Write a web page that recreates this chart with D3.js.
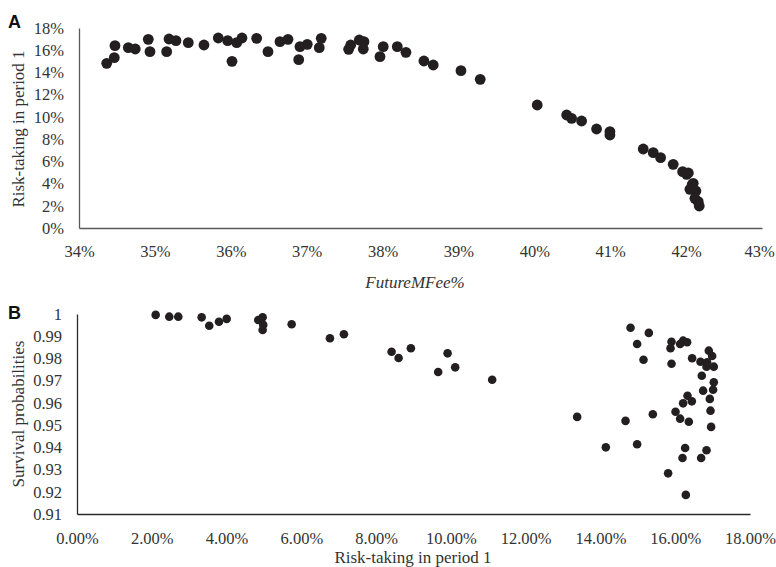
<!DOCTYPE html>
<html>
<head>
<meta charset="utf-8">
<script src="https://cdn.jsdelivr.net/npm/d3@7"></script>
<style>
  body { margin: 0; background: #fff; }
</style>
</head>
<body>
<div id="chart"></div>
<script>
// panel A: future management fee (%) vs risk-taking in period 1 (%)
var futureFee = [34.365, 34.465, 34.474, 34.65, 34.742, 34.913, 34.935, 35.155, 35.186, 35.278,
  35.44, 35.647, 35.835, 35.959, 36.016, 36.078, 36.148, 36.341, 36.49, 36.648,
  36.754, 36.895, 36.912, 37.008, 37.166, 37.192, 37.553, 37.58, 37.693, 37.755,
  37.746, 38.009, 37.966, 38.194, 38.308, 38.545, 38.668, 39.033, 39.287, 40.038,
  40.426, 40.491, 40.623, 40.82, 40.996, 40.996, 41.435, 41.567, 41.664, 41.83,
  41.954, 42.007, 42.094, 42.05, 42.129, 42.116, 42.16, 42.173, 42.08, 42.03];
var riskA = [14.82, 15.33, 16.41, 16.23, 16.11, 16.98, 15.87, 15.87, 17.01, 16.86,
  16.68, 16.47, 17.10, 16.86, 15.00, 16.68, 17.10, 17.07, 15.87, 16.77,
  16.98, 15.15, 16.32, 16.53, 16.23, 17.07, 16.08, 16.47, 16.92, 16.77,
  16.11, 16.32, 15.42, 16.32, 15.81, 15.03, 14.67, 14.16, 13.38, 11.07,
  10.17, 9.87, 9.63, 8.91, 8.67, 8.37, 7.11, 6.78, 6.33, 5.73,
  5.07, 4.83, 4.02, 3.48, 3.33, 2.67, 2.37, 1.98, 3.9, 4.95];

// panel B: risk-taking in period 1 (%) vs survival probability
var riskB = [2.104, 2.468, 2.709, 3.334, 3.537, 3.797, 4.003, 4.848, 4.965, 4.981,
  4.965, 5.741, 6.765, 7.139, 8.414, 8.602, 8.93, 9.912, 9.66, 10.115,
  11.104, 14.805, 15.294, 14.981, 15.152, 15.901, 15.874, 16.131, 16.211, 16.318,
  15.901, 16.452, 16.898, 16.987, 16.676, 16.853, 16.837, 17.032, 16.711, 17.032,
  17.013, 16.746, 16.925, 16.329, 16.211, 16.444, 13.377, 14.671, 15.401, 16.008,
  16.131, 16.364, 16.944, 16.96, 14.144, 14.981, 16.265, 16.837, 16.195, 16.693,
  15.81, 16.283];
var survival = [0.9996, 0.9988, 0.9988, 0.9985, 0.9947, 0.9965, 0.9978, 0.9973, 0.9985, 0.9951,
  0.9928, 0.9954, 0.9891, 0.9909, 0.9830, 0.9802, 0.9846, 0.9823, 0.9739, 0.9760,
  0.9704, 0.9938, 0.9915, 0.9865, 0.9794, 0.9875, 0.9846, 0.9865, 0.9880, 0.9873,
  0.9776, 0.9801, 0.9835, 0.9811, 0.9785, 0.9783, 0.9763, 0.9763, 0.9722, 0.9693,
  0.9659, 0.9655, 0.9618, 0.9632, 0.9598, 0.9607, 0.9537, 0.9519, 0.9549, 0.9560,
  0.9529, 0.9515, 0.9565, 0.9492, 0.9400, 0.9414, 0.9397, 0.9387, 0.9352, 0.9352,
  0.9283, 0.9186];

var feeTicks = [34, 35, 36, 37, 38, 39, 40, 41, 42, 43];
var riskATicks = [0, 2, 4, 6, 8, 10, 12, 14, 16, 18];
var riskBTicks = [0, 2, 4, 6, 8, 10, 12, 14, 16, 18];
var survTicks = [0.91, 0.92, 0.93, 0.94, 0.95, 0.96, 0.97, 0.98, 0.99, 1];

var W = 776, H = 567;
var dotColor = "#231f20";
var serif = "'Liberation Serif', 'Times New Roman', 'DejaVu Serif', serif";
var sans = "'Liberation Sans', Arial, sans-serif";

var svg = d3.select("#chart").append("svg")
  .attr("width", W).attr("height", H);

function styleAxis(g, stroke) {
  g.attr("font-family", serif).attr("font-size", 16.5);
  g.select(".domain").attr("stroke", stroke).attr("stroke-width", 1.3);
  g.selectAll("text").attr("fill", "#333");
}

// ---- panel A
var xA = d3.scaleLinear().domain([34, 43]).range([79, 762]);
var yA = d3.scaleLinear().domain([0, 18]).range([228, 28]);

svg.append("g").attr("transform", "translate(0,228)")
  .call(d3.axisBottom(xA).tickValues(feeTicks).tickSize(0).tickPadding(17)
    .tickFormat(d => d + "%"))
  .call(styleAxis, "#5a5a5a")
  .selectAll(".tick text").filter(d => d === 43).attr("dx", -3); // keep inside the frame
svg.append("g").attr("transform", "translate(79,0)")
  .call(d3.axisLeft(yA).tickValues(riskATicks).tickSize(0).tickPadding(15)
    .tickFormat(d => d + "%"))
  .call(styleAxis, "#5a5a5a");

svg.append("g").selectAll("circle")
  .data(futureFee.map((f, i) => [f, riskA[i]]))
  .join("circle")
  .attr("cx", d => xA(d[0]))
  .attr("cy", d => yA(d[1]))
  .attr("r", 5.4)
  .attr("fill", dotColor);

svg.append("text")
  .attr("x", 415).attr("y", 288)
  .attr("text-anchor", "middle")
  .attr("font-family", serif).attr("font-size", 17).attr("font-style", "italic")
  .attr("fill", "#333")
  .text("FutureMFee%");

svg.append("text")
  .attr("transform", "translate(24,129) rotate(-90)")
  .attr("text-anchor", "middle")
  .attr("font-family", serif).attr("font-size", 17).attr("fill", "#333")
  .text("Risk-taking in period 1");

// ---- panel B
var xB = d3.scaleLinear().domain([0, 18]).range([77, 750]);
var yB = d3.scaleLinear().domain([0.91, 1]).range([514, 314]);

svg.append("g").attr("transform", "translate(0,514)")
  .call(d3.axisBottom(xB).tickValues(riskBTicks).tickSize(0).tickPadding(18)
    .tickFormat(d => d.toFixed(2) + "%"))
  .call(styleAxis, "#2a2a2a");
svg.append("g").attr("transform", "translate(77,0)")
  .call(d3.axisLeft(yB).tickValues(survTicks).tickSize(0).tickPadding(15)
    .tickFormat(d => String(+d.toFixed(2))))
  .call(styleAxis, "#2a2a2a");

svg.append("g").selectAll("circle")
  .data(riskB.map((r, i) => [r, survival[i]]))
  .join("circle")
  .attr("cx", d => xB(d[0]))
  .attr("cy", d => yB(d[1]))
  .attr("r", 4.3)
  .attr("fill", dotColor);

svg.append("text")
  .attr("x", 413).attr("y", 563)
  .attr("text-anchor", "middle")
  .attr("font-family", serif).attr("font-size", 17).attr("fill", "#333")
  .text("Risk-taking in period 1");

svg.append("text")
  .attr("transform", "translate(24,414) rotate(-90)")
  .attr("text-anchor", "middle")
  .attr("font-family", serif).attr("font-size", 17).attr("fill", "#333")
  .text("Survival probabilities");

// panel letters
svg.append("text").attr("x", 8).attr("y", 28)
  .attr("font-family", sans).attr("font-weight", "bold").attr("font-size", 18)
  .attr("fill", "#111")
  .text("A");
svg.append("text").attr("x", 8).attr("y", 319)
  .attr("font-family", sans).attr("font-weight", "bold").attr("font-size", 18)
  .attr("fill", "#111")
  .text("B");
</script>
</body>
</html>
